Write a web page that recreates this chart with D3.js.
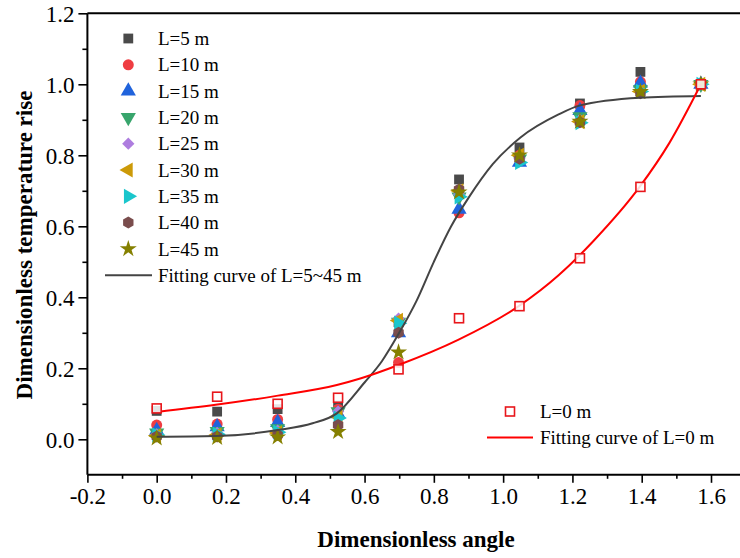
<!DOCTYPE html>
<html>
<head>
<meta charset="utf-8">
<script src="https://cdn.jsdelivr.net/npm/d3@7"></script>
<style>
  body { margin: 0; background: #fff; }
  text { font-family: "Liberation Serif", "Times New Roman", serif; fill: #000; }
</style>
</head>
<body>
<script>
// angles in radians (0..90 deg, 10 deg steps)
var angles = [0, 0.1745, 0.3491, 0.5236, 0.6981, 0.8727, 1.0472, 1.2217, 1.3963, 1.5708];

var seriesNames = ["L=5 m", "L=10 m", "L=15 m", "L=20 m", "L=25 m", "L=30 m", "L=35 m", "L=40 m", "L=45 m"];
var L5  = [0.080, 0.078, 0.085, 0.095, 0.330, 0.732, 0.822, 0.946, 1.035, 1.0];
var L10 = [0.040, 0.043, 0.056, 0.085, 0.216, 0.638, 0.800, 0.940, 1.007, 1.0];
var L15 = [0.025, 0.035, 0.047, 0.072, 0.300, 0.648, 0.780, 0.926, 1.003, 1.0];
var L20 = [0.018, 0.022, 0.030, 0.078, 0.330, 0.683, 0.790, 0.909, 0.985, 1.0];
var L25 = [0.014, 0.018, 0.024, 0.078, 0.340, 0.690, 0.790, 0.900, 0.982, 1.0];
var L30 = [0.010, 0.012, 0.018, 0.064, 0.335, 0.700, 0.800, 0.895, 0.980, 1.0];
var L35 = [0.012, 0.014, 0.020, 0.060, 0.327, 0.683, 0.780, 0.892, 0.980, 1.0];
var L40 = [0.008, 0.008, 0.012, 0.040, 0.300, 0.704, 0.790, 0.893, 0.975, 1.0];
var L45 = [0.003, 0.004, 0.006, 0.021, 0.245, 0.696, 0.800, 0.895, 0.979, 1.0];
var L0  = [0.087, 0.120, 0.100, 0.117, 0.197, 0.341, 0.375, 0.510, 0.711, 1.0];

// fitted curves, points
var fitAllX = [0, 0.17, 0.35, 0.45, 0.52, 0.60, 0.65, 0.70, 0.75, 0.80, 0.85, 0.90, 0.97, 1.05, 1.16, 1.22, 1.395, 1.5708];
var fitAllY = [0.007, 0.009, 0.026, 0.045, 0.073, 0.160, 0.220, 0.300, 0.390, 0.500, 0.600, 0.680, 0.775, 0.850, 0.915, 0.940, 0.962, 0.967];
var fitL0X = [0, 0.17, 0.35, 0.52, 0.59, 0.70, 0.87, 1.045, 1.16, 1.26, 1.394, 1.48, 1.5708];
var fitL0Y = [0.077, 0.097, 0.123, 0.153, 0.172, 0.210, 0.280, 0.375, 0.462, 0.558, 0.711, 0.835, 1.0];

var xMajor = [-0.2, 0, 0.2, 0.4, 0.6, 0.8, 1.0, 1.2, 1.4, 1.6];
var xMinor = [-0.1, 0.1, 0.3, 0.5, 0.7, 0.9, 1.1, 1.3, 1.5];
var yMajor = [0, 0.2, 0.4, 0.6, 0.8, 1.0, 1.2];
var yMinor = [0.1, 0.3, 0.5, 0.7, 0.9, 1.1];

var colors = ["#4a4a4a", "#ef3d42", "#2063dc", "#38a56c", "#ae7ddf", "#cc9a08", "#1ac6cc", "#7a4d4d", "#858000"];

var serif = '"Liberation Serif", "Times New Roman", serif';
var W = 740, H = 558;
var svg = d3.select("body").append("svg")
  .attr("width", W)
  .attr("height", H);

var x = d3.scaleLinear().domain([-0.2, 1.6]).range([87.4, 711]);
var y = d3.scaleLinear().domain([-0.1, 1.2]).range([474.8, 13.3]);

// marker shapes
function hexPath(r) {
  var p = [];
  for (var i = 0; i < 6; i++) {
    var a = Math.PI / 6 + i * Math.PI / 3;
    p.push([r * Math.cos(a), r * Math.sin(a)]);
  }
  return "M" + p.join("L") + "Z";
}
var shapes = [
  { d: d3.symbol(d3.symbolSquare, 96)(), rot: 0 },
  { d: d3.symbol(d3.symbolCircle, 95)(), rot: 0 },
  { d: d3.symbol(d3.symbolTriangle, 100)(), rot: 0 },
  { d: d3.symbol(d3.symbolTriangle, 100)(), rot: 180 },
  { d: d3.symbol(d3.symbolSquare, 76)(), rot: 45 },
  { d: d3.symbol(d3.symbolTriangle, 100)(), rot: -90 },
  { d: d3.symbol(d3.symbolTriangle, 100)(), rot: 90 },
  { d: hexPath(6), rot: 0 },
  { d: d3.symbol(d3.symbolStar, 90)(), rot: 0 }
];

var allSeries = [L5, L10, L15, L20, L25, L30, L35, L40, L45];

// scatter
allSeries.forEach(function (vals, i) {
  svg.append("g").selectAll("path")
    .data(vals)
    .enter().append("path")
    .attr("d", shapes[i].d)
    .attr("transform", function (d, j) {
      return "translate(" + x(angles[j]) + "," + y(d) + ") rotate(" + shapes[i].rot + ")";
    })
    .attr("fill", colors[i]);
});

// curves
var line = d3.line().curve(d3.curveMonotoneX);
svg.append("path")
  .attr("d", line(fitAllX.map(function (d, i) { return [x(d), y(fitAllY[i])]; })))
  .attr("fill", "none")
  .attr("stroke", "#444")
  .attr("stroke-width", 2);
svg.append("path")
  .attr("d", line(fitL0X.map(function (d, i) { return [x(d), y(fitL0Y[i])]; })))
  .attr("fill", "none")
  .attr("stroke", "#f00")
  .attr("stroke-width", 2);

// L=0 open squares
svg.append("g").selectAll("rect")
  .data(L0)
  .enter().append("rect")
  .attr("x", function (d, j) { return x(angles[j]) - 4.5; })
  .attr("y", function (d) { return y(d) - 4.5; })
  .attr("width", 9)
  .attr("height", 9)
  .attr("fill", "#fff")
  .attr("fill-opacity", 0.85)
  .attr("stroke", "#e8161b")
  .attr("stroke-width", 1.6);

// axes
var fmt = function (d) { return d.toFixed(1); };
var gx = svg.append("g").attr("transform", "translate(0," + y(-0.1) + ")")
  .call(d3.axisBottom(x).tickValues(xMajor).tickSize(8).tickFormat(fmt));
var gxm = svg.append("g").attr("transform", "translate(0," + y(-0.1) + ")")
  .call(d3.axisBottom(x).tickValues(xMinor).tickSize(4).tickFormat(""));
var gy = svg.append("g").attr("transform", "translate(" + x(-0.2) + ",0)")
  .call(d3.axisLeft(y).tickValues(yMajor).tickSize(9).tickFormat(fmt));
var gym = svg.append("g").attr("transform", "translate(" + x(-0.2) + ",0)")
  .call(d3.axisLeft(y).tickValues(yMinor).tickSize(5).tickFormat(""));

[gx, gxm, gy, gym].forEach(function (g) {
  g.select(".domain").remove();
  g.selectAll("line").attr("stroke", "#000").attr("stroke-width", 1.6);
});
gx.selectAll("text").style("font-family", serif).attr("font-size", 23).attr("y", 13).attr("dy", "0.71em");
gy.selectAll("text").style("font-family", serif).attr("font-size", 23).attr("x", -13).attr("dy", "0.34em");

// frame lines
svg.append("line").attr("x1", x(-0.2)).attr("x2", W).attr("y1", y(-0.1)).attr("y2", y(-0.1))
  .attr("stroke", "#000").attr("stroke-width", 2);
svg.append("line").attr("x1", x(-0.2)).attr("x2", x(-0.2)).attr("y1", y(1.2)).attr("y2", y(-0.1))
  .attr("stroke", "#000").attr("stroke-width", 2);
svg.append("line").attr("x1", x(-0.2)).attr("x2", W).attr("y1", y(1.2)).attr("y2", y(1.2))
  .attr("stroke", "#000").attr("stroke-width", 2);

// axis titles
svg.append("text")
  .attr("x", 416).attr("y", 547)
  .attr("text-anchor", "middle")
  .style("font-family", serif)
  .attr("font-size", 23).attr("font-weight", "bold")
  .text("Dimensionless angle");
svg.append("text")
  .attr("transform", "translate(32," + 245 + ") rotate(-90)")
  .attr("text-anchor", "middle")
  .style("font-family", serif)
  .attr("font-size", 23).attr("font-weight", "bold")
  .text("Dimensionless temperature rise");

// legend, top-left
var leg = svg.append("g");
seriesNames.forEach(function (name, i) {
  var ly = 38.5 + i * 26.3;
  leg.append("path")
    .attr("d", shapes[i].d)
    .attr("transform", "translate(128.3," + ly + ") rotate(" + shapes[i].rot + ")")
    .attr("fill", colors[i]);
  leg.append("text")
    .attr("x", 158).attr("y", ly)
    .attr("dy", "0.35em")
    .style("font-family", serif)
    .attr("font-size", 19)
    .text(name);
});
var lyFit = 38.5 + 9 * 26.3;
leg.append("line").attr("x1", 105).attr("x2", 152).attr("y1", lyFit).attr("y2", lyFit)
  .attr("stroke", "#444").attr("stroke-width", 2);
leg.append("text").attr("x", 158).attr("y", lyFit).attr("dy", "0.35em")
  .style("font-family", serif)
  .attr("font-size", 19).text("Fitting curve of L=5~45 m");

// legend, lower right
leg.append("rect").attr("x", 505.5).attr("y", 407).attr("width", 9).attr("height", 9)
  .attr("fill", "#fff").attr("stroke", "#e8161b").attr("stroke-width", 1.6);
leg.append("text").attr("x", 540).attr("y", 411.5).attr("dy", "0.35em")
  .style("font-family", serif)
  .attr("font-size", 19).text("L=0 m");
leg.append("line").attr("x1", 487).attr("x2", 533).attr("y1", 437.5).attr("y2", 437.5)
  .attr("stroke", "#f00").attr("stroke-width", 2);
leg.append("text").attr("x", 540).attr("y", 437.5).attr("dy", "0.35em")
  .style("font-family", serif)
  .attr("font-size", 19).text("Fitting curve of L=0 m");
</script>
</body>
</html>
